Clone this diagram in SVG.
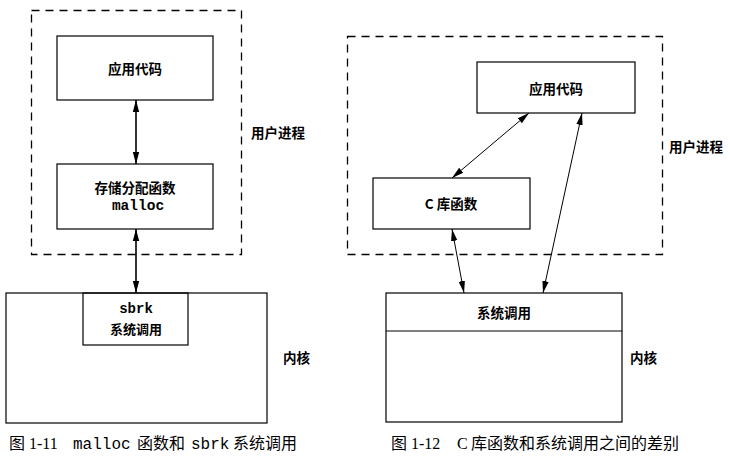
<svg xmlns="http://www.w3.org/2000/svg" width="730" height="457" viewBox="0 0 730 457">
<style>
.box{fill:none;stroke:#000;stroke-width:1.2}
.dash{fill:none;stroke:#000;stroke-width:1.3;stroke-dasharray:8,6}
.t{font-family:"Noto Sans CJK SC","Liberation Sans",sans-serif;font-size:13.5px;font-weight:bold;fill:#000;text-anchor:middle}
.l{font-family:"Noto Sans CJK SC","Liberation Sans",sans-serif;font-size:13.5px;font-weight:bold;fill:#000}
.m{font-family:"Liberation Mono",monospace;font-size:14.5px;font-weight:bold;fill:#000;text-anchor:middle}
.cap{font-family:"Liberation Serif","Noto Sans CJK SC",serif;font-size:16px;fill:#000}
.capc{font-family:"Noto Sans CJK SC",sans-serif;font-size:16px;fill:#000}
.capm{font-family:"Liberation Mono",monospace;font-size:16px;fill:#000}
.a1{stroke:#000;stroke-width:1.6;fill:none}
.a2{stroke:#000;stroke-width:1;fill:none}
</style>
<defs>
<marker id="ah" viewBox="0 0 12 8" refX="12" refY="4" markerWidth="12" markerHeight="8" markerUnits="userSpaceOnUse" orient="auto-start-reverse">
<path d="M0,0.8 L12,4 L0,7.2 z" fill="#000"/>
</marker>
</defs>

<!-- Figure 1-11 -->
<g id="user-process-left">
<rect class="dash" x="31.5" y="10.5" width="210" height="244"/>
<text class="l" x="251" y="138">用户进程</text>
</g>
<g id="app-code-left">
<rect class="box" x="57" y="36" width="156" height="64"/>
<text class="t" x="135" y="74">应用代码</text>
</g>
<g id="malloc">
<rect class="box" x="57" y="164" width="156" height="65"/>
<text class="t" x="135" y="193">存储分配函数</text>
<text class="m" x="138" y="210">malloc</text>
</g>
<g id="kernel-left">
<rect class="box" x="6" y="293" width="261" height="130"/>
<text class="l" x="283" y="363">内核</text>
</g>
<g id="sbrk">
<rect class="box" x="83" y="293" width="105" height="52"/>
<text class="m" x="136" y="313" style="font-size:14px">sbrk</text>
<text class="t" x="136" y="334" style="font-size:13px">系统调用</text>
</g>

<!-- Figure 1-12 -->
<g id="user-process-right">
<rect class="dash" x="347.5" y="36.5" width="315" height="218"/>
<text class="l" x="669" y="152">用户进程</text>
</g>
<g id="app-code-right">
<rect class="box" x="477" y="62" width="158" height="51"/>
<text class="t" x="556" y="94">应用代码</text>
</g>
<g id="c-lib">
<rect class="box" x="373" y="178" width="157" height="51"/>
<text class="t" x="451" y="209">C 库函数</text>
</g>
<g id="kernel-right">
<rect class="box" x="386" y="293" width="236" height="129"/>
<line x1="386" y1="331" x2="622" y2="331" stroke="#000" stroke-width="1"/>
<text class="t" x="504" y="318">系统调用</text>
<text class="l" x="630" y="363">内核</text>
</g>

<g id="connectors">
<line class="a1" x1="136" y1="100" x2="136" y2="164" marker-start="url(#ah)" marker-end="url(#ah)"/>
<line class="a1" x1="136" y1="229" x2="136" y2="293" marker-start="url(#ah)" marker-end="url(#ah)"/>
<line class="a2" x1="529" y1="113" x2="452" y2="178" marker-start="url(#ah)" marker-end="url(#ah)"/>
<line class="a2" x1="582" y1="113" x2="543" y2="293" marker-start="url(#ah)" marker-end="url(#ah)"/>
<line class="a2" x1="452" y1="229" x2="464" y2="293" marker-start="url(#ah)" marker-end="url(#ah)"/>
</g>

<g id="captions">
<text class="capc" x="9" y="449">图</text>
<text class="cap" x="29" y="449">1-11</text>
<text class="capm" x="73" y="449">malloc</text>
<text class="capc" x="137" y="449">函数和</text>
<text class="capm" x="191" y="449">sbrk</text>
<text class="capc" x="233" y="449">系统调用</text>

<text class="capc" x="391" y="449">图</text>
<text class="cap" x="411" y="449">1-12</text>
<text class="cap" x="457" y="449">C</text>
<text class="capc" x="471" y="449">库函数和系统调用之间的差别</text>
</g>
</svg>
